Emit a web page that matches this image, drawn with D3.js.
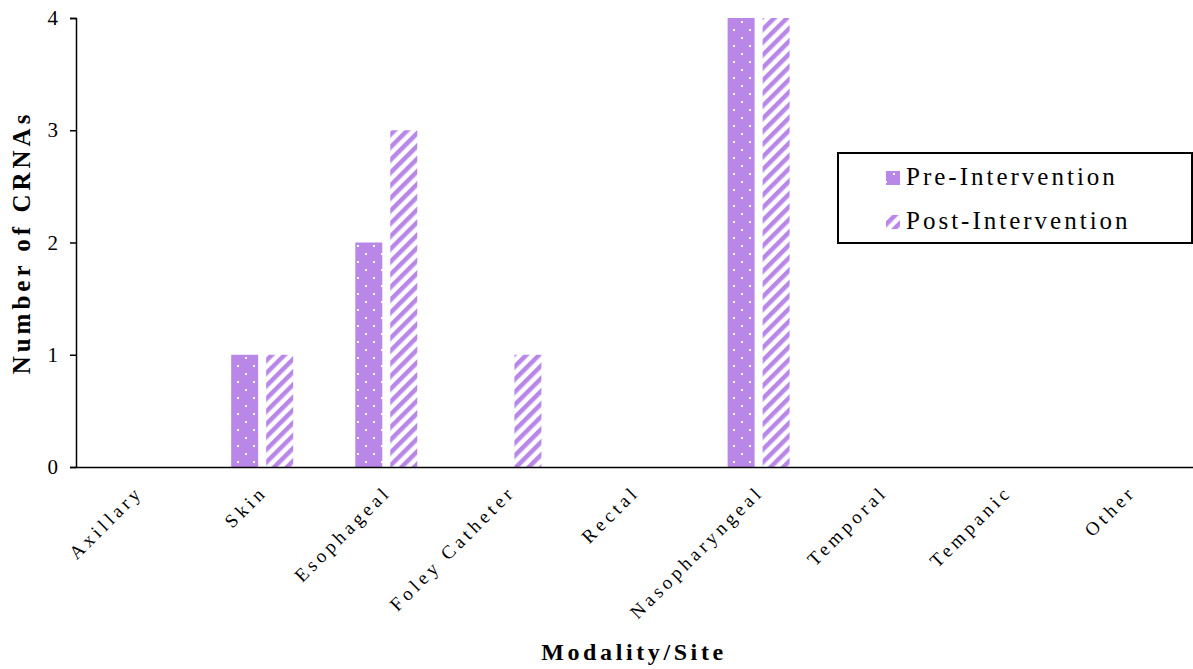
<!DOCTYPE html>
<html><head><meta charset="utf-8">
<script src="https://cdn.jsdelivr.net/npm/d3@7"></script>
<style>body{margin:0;background:#fff;} svg{display:block;}</style>
</head><body>
<script>
const categories = ["Axillary","Skin","Esophageal","Foley Catheter","Rectal","Nasopharyngeal","Temporal","Tempanic","Other"];
const preValues  = [0,1,2,0,0,4,0,0,0];
const postValues = [0,1,3,1,0,4,0,0,0];
const seriesNames = ["Pre-Intervention","Post-Intervention"];
const yTicks = [0,1,2,3,4];

const W = 1193, H = 669;
const color = "#b987e8";
const margin = {left:76, right:0, top:18, bottom:202};
const svg = d3.select("body").append("svg").attr("width",W).attr("height",H);
const defs = svg.append("defs");
const dots = defs.append("pattern").attr("id","dots").attr("patternUnits","userSpaceOnUse")
  .attr("width",16).attr("height",16).attr("x",2).attr("y",2);
dots.append("rect").attr("width",16).attr("height",16).attr("fill",color);
dots.append("rect").attr("x",3).attr("y",3).attr("width",2).attr("height",2).attr("fill","#fff");
dots.append("rect").attr("x",11).attr("y",11).attr("width",2).attr("height",2).attr("fill","#fff");
const stripes = defs.append("pattern").attr("id","stripes").attr("patternUnits","userSpaceOnUse")
  .attr("width",9).attr("height",9).attr("patternTransform","rotate(45)");
stripes.append("rect").attr("width",9).attr("height",9).attr("fill","#fff");
stripes.append("rect").attr("width",4.5).attr("height",9).attr("fill",color);

const x = d3.scaleBand().domain(categories).range([margin.left, W - margin.right]);
const y = d3.scaleLinear().domain([0,4]).range([H - margin.bottom, margin.top]);

const data = categories.map((c,i)=>({c, pre:preValues[i], post:postValues[i]}));
const bw = 27, gap = 8;
const g = svg.append("g");
g.selectAll(".pre").data(data.filter(d=>d.pre>0)).join("rect")
  .attr("x", d=>x(d.c)+x.bandwidth()/2 - gap/2 - bw).attr("width",bw)
  .attr("y", d=>y(d.pre)).attr("height", d=>y(0)-y(d.pre)).attr("fill","url(#dots)");
g.selectAll(".post").data(data.filter(d=>d.post>0)).join("rect")
  .attr("x", d=>x(d.c)+x.bandwidth()/2 + gap/2).attr("width",bw)
  .attr("y", d=>y(d.post)).attr("height", d=>y(0)-y(d.post)).attr("fill","url(#stripes)");

// y axis
const ya = svg.append("g").attr("transform",`translate(${margin.left},0)`)
  .call(d3.axisLeft(y).tickValues(yTicks).tickFormat(d3.format("d")).tickSizeOuter(0).tickSize(6).tickPadding(12));
ya.select(".domain").attr("stroke","#000").attr("stroke-width",1.5);
ya.selectAll("line").attr("stroke","#000").attr("stroke-width",1.5);
ya.selectAll("text").attr("font-family","Liberation Serif").attr("font-size",21).attr("fill","#000");

// x axis
const xa = svg.append("g").attr("transform",`translate(0,${y(0)})`)
  .call(d3.axisBottom(x).tickSize(0).tickSizeOuter(0));
xa.select(".domain").attr("stroke","#000").attr("stroke-width",1.5);
xa.selectAll("text").attr("font-family","Liberation Serif").attr("font-size",19)
  .attr("letter-spacing","4px").attr("fill","#000")
  .attr("text-anchor","end").attr("dy",0)
  .attr("transform","translate(4,24) rotate(-45)");

// axis titles
svg.append("text").attr("x",634).attr("y",660).attr("text-anchor","middle")
  .attr("font-family","Liberation Serif").attr("font-weight","bold").attr("font-size",24)
  .attr("letter-spacing","3.6px").text("Modality/Site");
svg.append("text").attr("transform",`translate(30,${y(2)}) rotate(-90)`).attr("text-anchor","middle")
  .attr("font-family","Liberation Serif").attr("font-weight","bold").attr("font-size",25)
  .attr("letter-spacing","4px").text("Number of CRNAs");

// legend
const lg = svg.append("g");
lg.append("rect").attr("x",838).attr("y",153).attr("width",354).attr("height",90)
  .attr("fill","#fff").attr("stroke","#000").attr("stroke-width",2);
const fills = ["url(#dots)","url(#stripes)"];
seriesNames.forEach((s,i)=>{
  const yy = 177 + i*44;
  lg.append("rect").attr("x",886).attr("y",yy-6).attr("width",14).attr("height",14).attr("fill",fills[i]);
  lg.append("text").attr("x",906).attr("y",yy+8).attr("font-family","Liberation Serif")
    .attr("font-size",25).attr("letter-spacing","3px").text(s);
});
</script>
</body></html>
